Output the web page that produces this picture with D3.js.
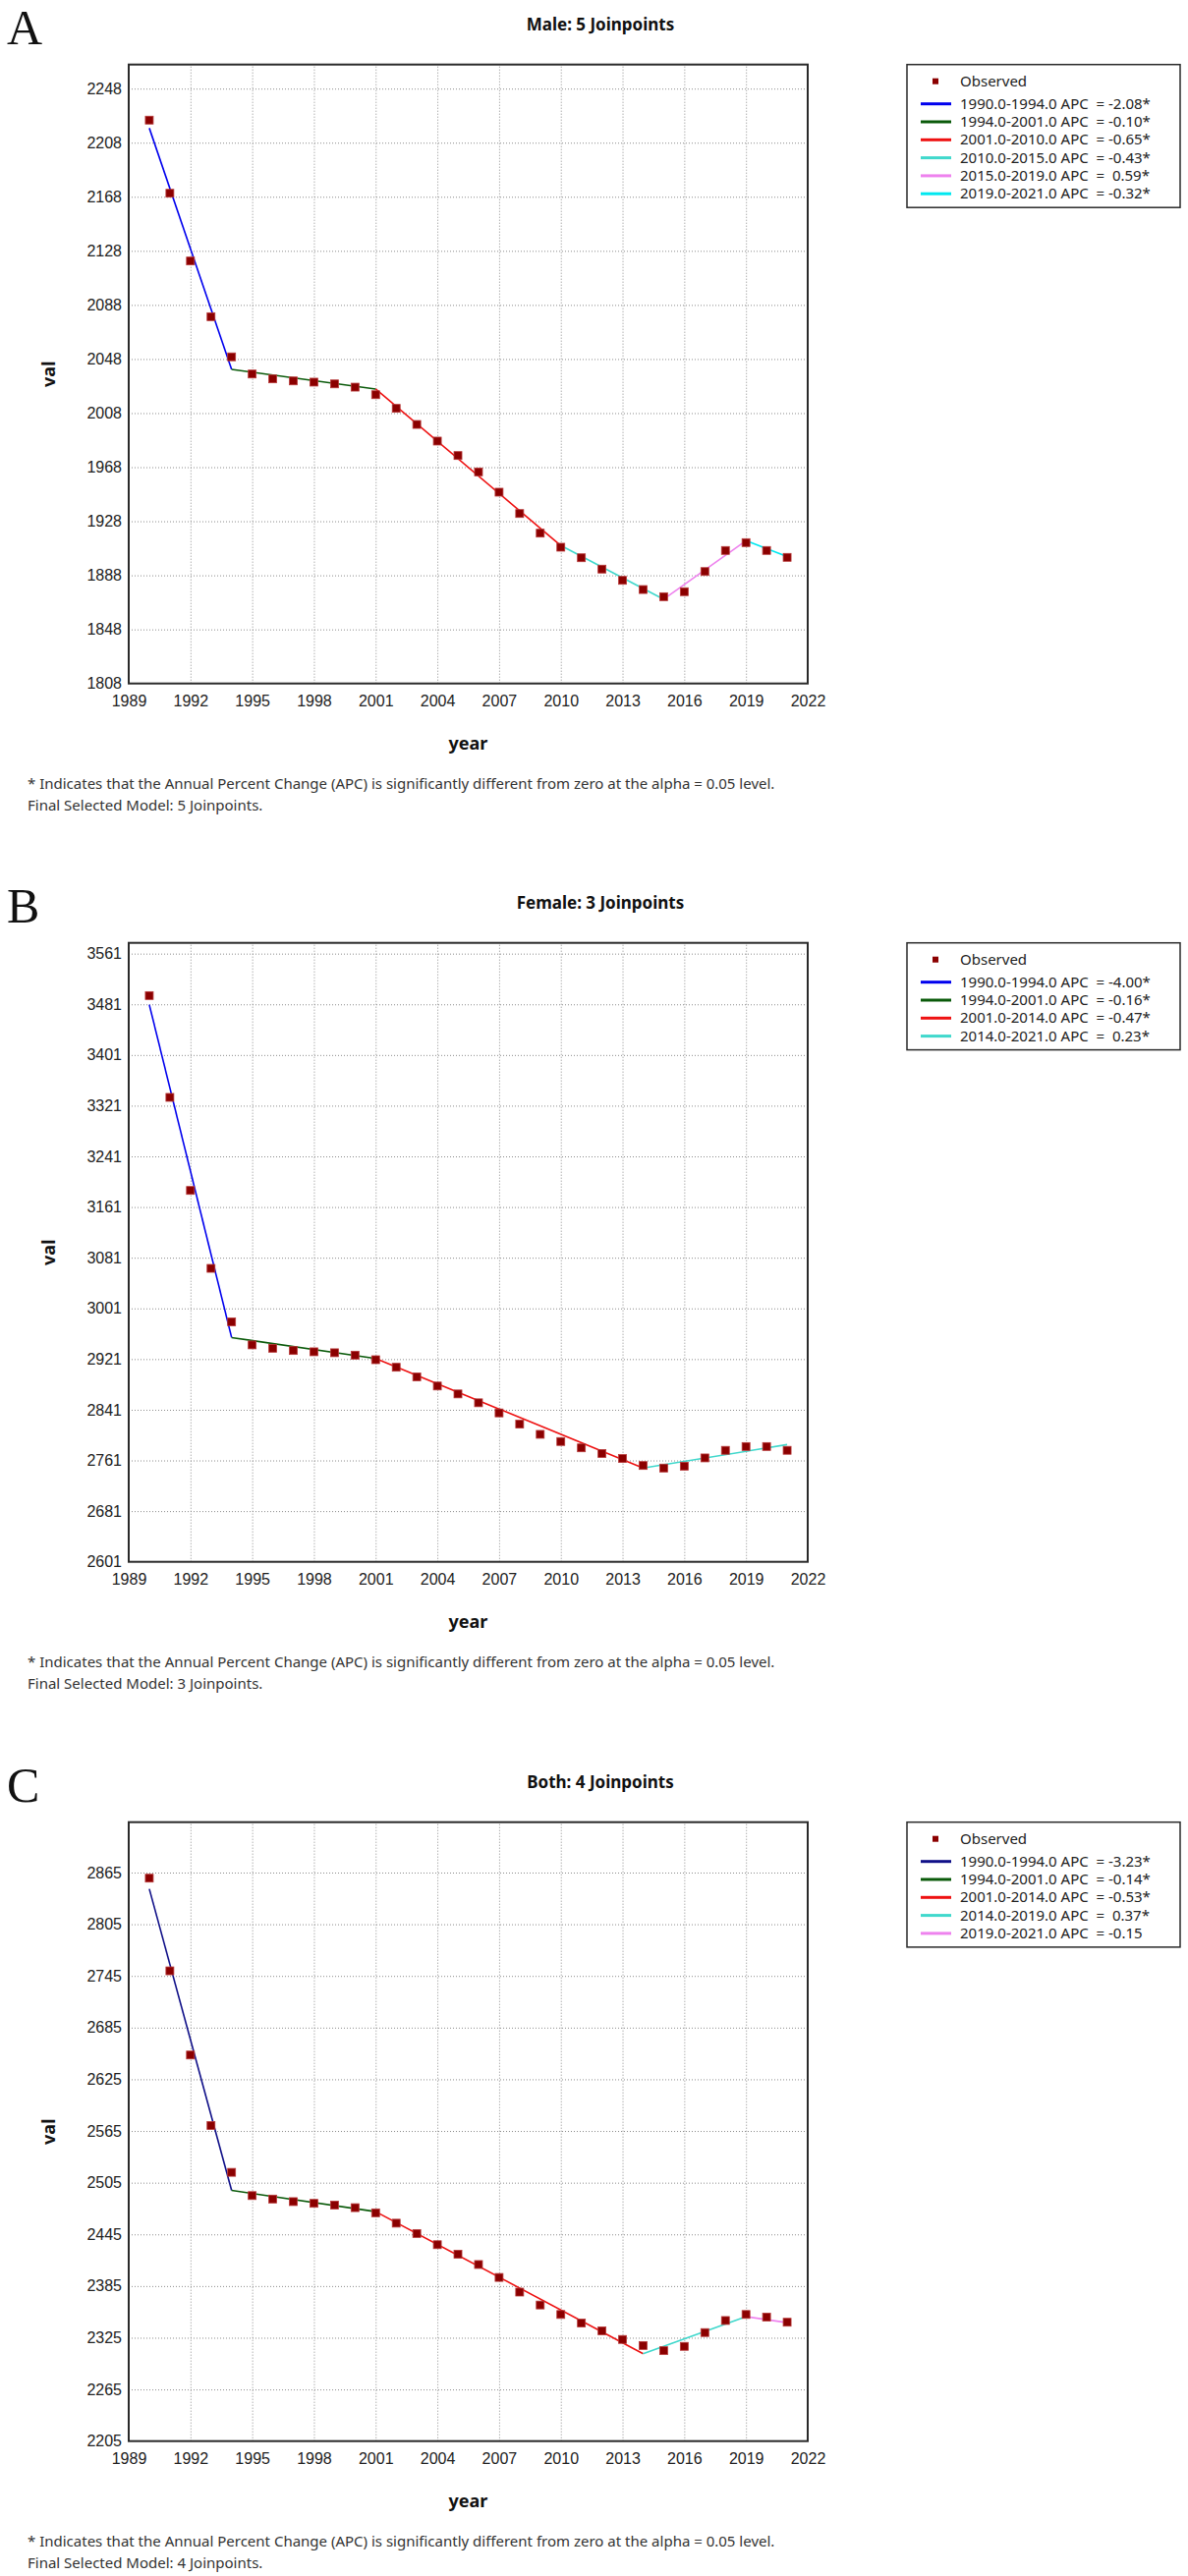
<!DOCTYPE html>
<html>
<head>
<meta charset="utf-8">
<script src="https://cdn.jsdelivr.net/npm/d3@7"></script>
<style>
body { margin:0; background:#fff; }
svg { display:block; font-family:"Noto Sans", sans-serif; }
.grid line { stroke:#8c8c8c; stroke-width:1; stroke-dasharray:1,2; }
.grid path { display:none; }
.axis path, .axis line { display:none; }
.axis text { font-size:16px; fill:#222; }
.frame { fill:none; stroke:#2a2a2a; stroke-width:2; }
.legend-box { fill:#fff; stroke:#2a2a2a; stroke-width:1.5; }
.legend text { font-size:15px; fill:#222; white-space:pre; }
.note { font-size:15px; fill:#333; }
</style>
</head>
<body>
<svg id="chart" width="1209" height="2622"></svg>
<script>
// ---- data ----
var years = [1990,1991,1992,1993,1994,1995,1996,1997,1998,1999,2000,2001,2002,2003,2004,2005,
             2006,2007,2008,2009,2010,2011,2012,2013,2014,2015,2016,2017,2018,2019,2020,2021];
var xTicks = [1989,1992,1995,1998,2001,2004,2007,2010,2013,2016,2019,2022];

var maleObserved = [2224.7,2170.6,2120.5,2079.3,2049.6,2036.9,2033.3,2031.8,2030.9,2029.6,2027.2,2021.6,
                    2011.5,1999.6,1987.3,1976.6,1964.5,1949.5,1933.7,1919.2,1908.8,1901.0,1892.6,1884.3,
                    1877.5,1872.2,1875.9,1890.8,1906.4,1912.2,1906.4,1901.3];
var maleJoinYears = [1990,1994,2001,2010,2015,2019,2021];
var maleFitted = [2218.8,2040.3,2025.8,1910.0,1870.3,1913.6,1901.9];
var maleTicks = [1808,1848,1888,1928,1968,2008,2048,2088,2128,2168,2208,2248];
var maleLegend = ["1990.0-1994.0 APC  = -2.08*","1994.0-2001.0 APC  = -0.10*","2001.0-2010.0 APC  = -0.65*",
                  "2010.0-2015.0 APC  = -0.43*","2015.0-2019.0 APC  =  0.59*","2019.0-2021.0 APC  = -0.32*"];

var femaleObserved = [3494.8,3334.1,3187.2,3064.2,2979.7,2943.4,2938.1,2934.5,2932.5,2931.0,2927.2,2920.0,
                      2908.1,2893.0,2878.5,2866.0,2852.0,2836.0,2818.3,2802.2,2790.9,2780.9,2772.0,2764.0,
                      2753.0,2749.0,2752.0,2765.0,2777.0,2783.0,2783.0,2777.0];
var femaleJoinYears = [1990,1994,2001,2014,2021];
var femaleFitted = [3480.4,2955.0,2922.0,2749.0,2786.0];
var femaleTicks = [2601,2681,2761,2841,2921,3001,3081,3161,3241,3321,3401,3481,3561];
var femaleLegend = ["1990.0-1994.0 APC  = -4.00*","1994.0-2001.0 APC  = -0.16*","2001.0-2014.0 APC  = -0.47*",
                    "2014.0-2021.0 APC  =  0.23*"];

var bothObserved = [2858.5,2750.9,2653.2,2571.4,2517.0,2490.0,2486.0,2483.0,2481.0,2479.0,2476.0,2470.0,
                    2458.0,2446.0,2433.0,2422.0,2410.0,2395.0,2378.0,2363.0,2352.0,2342.0,2333.0,2323.0,
                    2316.0,2310.0,2315.0,2331.0,2345.0,2352.0,2349.0,2343.0];
var bothJoinYears = [1990,1994,2001,2014,2019,2021];
var bothFitted = [2846.0,2496.0,2471.4,2306.5,2349.5,2342.5];
var bothTicks = [2205,2265,2325,2385,2445,2505,2565,2625,2685,2745,2805,2865];
var bothLegend = ["1990.0-1994.0 APC  = -3.23*","1994.0-2001.0 APC  = -0.14*","2001.0-2014.0 APC  = -0.53*",
                  "2014.0-2019.0 APC  =  0.37*","2019.0-2021.0 APC  = -0.15"];

var noteText = "* Indicates that the Annual Percent Change (APC) is significantly different from zero at the alpha = 0.05 level.";

// segment colours (style, not data)
var maleColors = ["#0000ee","#0a5a0a","#ee1111","#40d8cc","#ee82ee","#00e8f0"];
var femaleColors = ["#0000ee","#0a5a0a","#ee1111","#40d8cc"];
var bothColors = ["#101088","#0a5a0a","#ee1111","#40d8cc","#ee82ee"];

var panels = [
  {tag:"A", title:"Male: 5 Joinpoints", top:0, obs:maleObserved, jy:maleJoinYears, fit:maleFitted,
   ticks:maleTicks, ymin:1808, ymax:2265.8, legend:maleLegend, colors:maleColors,
   model:"Final Selected Model: 5 Joinpoints."},
  {tag:"B", title:"Female: 3 Joinpoints", top:894, obs:femaleObserved, jy:femaleJoinYears, fit:femaleFitted,
   ticks:femaleTicks, ymin:2601, ymax:3578, legend:femaleLegend, colors:femaleColors,
   model:"Final Selected Model: 3 Joinpoints."},
  {tag:"C", title:"Both: 4 Joinpoints", top:1789, obs:bothObserved, jy:bothJoinYears, fit:bothFitted,
   ticks:bothTicks, ymin:2205, ymax:2923.5, legend:bothLegend, colors:bothColors,
   model:"Final Selected Model: 4 Joinpoints."}
];

var L = 131, R = 822, T = 65.7, B = 695.7;
var svg = d3.select("#chart");
var x = d3.scaleLinear().domain([1989,2022]).range([L,R]);

panels.forEach(function(p){
  var g = svg.append("g").attr("transform","translate(0,"+p.top+")");
  var y = d3.scaleLinear().domain([p.ymin,p.ymax]).range([B,T]);

  g.append("text").attr("x",7).attr("y",45)
    .style("font-family","'Liberation Serif', serif").style("font-size","50px").attr("fill","#111")
    .text(p.tag);
  g.append("text").attr("x",611).attr("y",31).attr("text-anchor","middle")
    .style("font-size","17px").style("font-weight","bold").attr("fill","#111")
    .text(p.title);

  // grid
  g.append("g").attr("class","grid")
    .attr("transform","translate(0,"+B+")")
    .call(d3.axisBottom(x).tickValues(xTicks.slice(1,-1)).tickSize(-(B-T)).tickFormat(""));
  g.append("g").attr("class","grid")
    .attr("transform","translate("+L+",0)")
    .call(d3.axisLeft(y).tickValues(p.ticks.filter(function(t){ return y(t) < B-2; }))
      .tickSize(-(R-L)).tickFormat(""));

  // tick labels
  g.append("g").attr("class","axis")
    .attr("transform","translate(0,"+B+")")
    .call(d3.axisBottom(x).tickValues(xTicks).tickSize(0).tickPadding(12).tickFormat(d3.format("d")));
  g.append("g").attr("class","axis")
    .attr("transform","translate("+L+",0)")
    .call(d3.axisLeft(y).tickValues(p.ticks).tickSize(0).tickPadding(7).tickFormat(d3.format("d")));

  // fitted segments
  var line = d3.line().x(function(d){ return x(d[0]); }).y(function(d){ return y(d[1]); });
  for (var i=0;i<p.jy.length-1;i++){
    g.append("path")
      .attr("d",line([[p.jy[i],p.fit[i]],[p.jy[i+1],p.fit[i+1]]]))
      .attr("fill","none").attr("stroke",p.colors[i]).attr("stroke-width",1.6);
  }

  // observed
  g.append("g").selectAll("rect").data(years).enter().append("rect")
    .attr("x",function(d){ return x(d)-4; })
    .attr("y",function(d,i){ return y(p.obs[i])-4; })
    .attr("width",8).attr("height",8)
    .attr("fill","#8b0000").attr("stroke","#b83a3a").attr("stroke-width",0.8);

  g.append("rect").attr("class","frame").attr("x",L).attr("y",T).attr("width",R-L).attr("height",B-T);

  g.append("text").attr("x",(L+R)/2).attr("y",763).attr("text-anchor","middle")
    .style("font-size","18px").style("font-weight","bold").attr("fill","#111").text("year");
  g.append("text").attr("transform","translate(56,"+((T+B)/2)+") rotate(-90)").attr("text-anchor","middle")
    .style("font-size","18px").style("font-weight","bold").attr("fill","#111").text("val");

  // legend
  var lg = g.append("g").attr("class","legend");
  var rowY = function(k){ return T + 40 + k*18.3; };
  lg.append("rect").attr("class","legend-box").attr("x",923).attr("y",T)
    .attr("width",278).attr("height",40 + (p.legend.length-1)*18.3 + 14);
  lg.append("rect").attr("x",949).attr("y",T+17-3).attr("width",6).attr("height",6).attr("fill","#8b0000");
  lg.append("text").attr("x",977).attr("y",T+17+5).text("Observed");
  lg.selectAll("line.seg").data(p.legend).enter().append("line").attr("class","seg")
    .attr("x1",937).attr("x2",968)
    .attr("y1",function(d,k){ return rowY(k); }).attr("y2",function(d,k){ return rowY(k); })
    .attr("stroke",function(d,k){ return p.colors[k]; }).attr("stroke-width",3);
  lg.selectAll("text.lab").data(p.legend).enter().append("text").attr("class","lab")
    .attr("x",977).attr("y",function(d,k){ return rowY(k)+5; })
    .text(function(d){ return d; });

  g.append("text").attr("class","note").attr("x",28).attr("y",803).text(noteText);
  g.append("text").attr("class","note").attr("x",28).attr("y",825).text(p.model);
});
</script>
</body>
</html>
